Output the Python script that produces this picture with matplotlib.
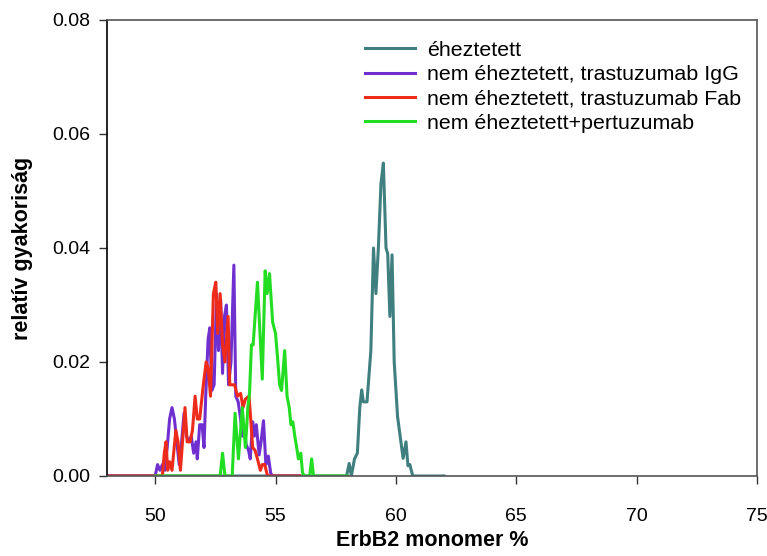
import numpy as np
import matplotlib
matplotlib.use('Agg')
import matplotlib.pyplot as plt

plt.rcParams['font.family'] = ['Liberation Sans', 'DejaVu Sans']

# éheztetett
x_eh = [48, 57.95, 58.06, 58.15, 58.28, 58.4, 58.5, 58.58, 58.65, 58.8, 58.96, 59.07, 59.17,
        59.27, 59.38, 59.48, 59.59, 59.66, 59.75, 59.84, 59.93, 60.07, 60.18, 60.3, 60.42,
        60.5, 60.58, 60.7, 62]
y_eh = [0, 0, 0.0022, 0.0, 0.003, 0.004, 0.012, 0.0151, 0.013, 0.013, 0.022, 0.040, 0.032,
        0.0398, 0.0513, 0.0549, 0.040, 0.039, 0.028, 0.0388, 0.020, 0.0104, 0.0069, 0.0031, 0.006,
        0.0018, 0.002, 0, 0]

# nem éheztetett, trastuzumab IgG
x_igg = [48, 50.0, 50.1, 50.2, 50.3, 50.4, 50.5, 50.6, 50.7, 50.8, 50.9, 51.0, 51.1, 51.2,
         51.3, 51.4, 51.5, 51.6, 51.7, 51.75, 51.85, 51.95, 52.03, 52.1, 52.2, 52.27, 52.35,
         52.45, 52.55, 52.63, 52.72, 52.8, 52.88, 52.96, 53.05, 53.15, 53.27, 53.35, 53.45,
         53.55, 53.62, 53.7, 53.78, 53.88, 53.95, 54.05, 54.12, 54.2, 54.32, 54.4, 54.5, 54.6,
         54.7, 54.8, 54.87, 56]
y_igg = [0, 0, 0.002, 0.001, 0.002, 0.001, 0.005, 0.010, 0.012, 0.010, 0.006, 0.002, 0.006, 0.011,
         0.007, 0.006, 0.007, 0.004, 0.006, 0.003, 0.009, 0.009, 0.005, 0.014, 0.024, 0.026, 0.015,
         0.016, 0.032, 0.022, 0.031, 0.018, 0.028, 0.030, 0.016, 0.020, 0.037, 0.014, 0.013,
         0.010, 0.007, 0.008, 0.0055, 0.0045, 0.003, 0.0095, 0.007, 0.009, 0.0037, 0.006, 0.0097, 0.002,
         0.0035, 0.0005, 0, 0]

# nem éheztetett, trastuzumab Fab
x_fab = [48, 50.3, 50.38, 50.45, 50.52, 50.6, 50.7, 50.86, 50.95, 51.05, 51.24, 51.33, 51.45,
         51.55, 51.66, 51.75, 51.85, 51.95, 52.03, 52.12, 52.2, 52.3, 52.42, 52.52, 52.6, 52.7,
         52.8, 52.9, 53.03, 53.1, 53.3, 53.42, 53.55, 53.65, 53.75, 53.9, 53.97, 54.05, 54.15,
         54.25, 54.37, 54.45, 54.55, 54.67, 56]
y_fab = [0, 0, 0.004, 0.006, 0.001, 0.0025, 0.001, 0.008, 0.006, 0.001, 0.012, 0.006, 0.006,
         0.008, 0.014, 0.010, 0.010, 0.014, 0.017, 0.020, 0.019, 0.014, 0.032, 0.034, 0.025, 0.032,
         0.023, 0.020, 0.028, 0.016, 0.016, 0.014, 0.0145, 0.012, 0.0135, 0.014, 0.010, 0.005, 0.0045,
         0.003, 0.001, 0.002, 0.002, 0, 0]

# nem éheztetett+pertuzumab
x_per = [50, 52.7, 52.8, 52.9, 53.2, 53.32, 53.46, 53.62, 53.75, 53.85, 53.92, 54.0, 54.07,
         54.25, 54.45, 54.57, 54.65, 54.75, 54.88, 55.0, 55.08, 55.17, 55.25, 55.38, 55.48,
         55.57, 55.64, 55.72, 55.8, 55.88, 55.95, 56.05, 56.12, 56.2, 56.42, 56.5, 56.58, 58]
y_per = [0, 0, 0.004, 0.0, 0, 0.011, 0.003, 0.012, 0.005, 0.012, 0.0145, 0.023, 0.023,
         0.034, 0.017, 0.036, 0.032, 0.0355, 0.027, 0.025, 0.021, 0.016, 0.015, 0.022, 0.014,
         0.012, 0.009, 0.0095, 0.007, 0.005, 0.003, 0.004, 0.0006, 0, 0, 0.003, 0.0, 0]

labels = ['éheztetett', 'nem éheztetett, trastuzumab IgG',
          'nem éheztetett, trastuzumab Fab', 'nem éheztetett+pertuzumab']
colors = ['#3f7f7f', '#7030d0', '#ee2a1b', '#22dd22']

fig = plt.figure(figsize=(7.67, 5.56), dpi=100)
ax = fig.add_axes([107 / 767, 1 - 476 / 556, 650 / 767, 456 / 556])

ax.plot(x_eh, y_eh, color=colors[0], lw=2.2, label=labels[0])
ax.plot(x_igg, y_igg, color=colors[1], lw=2.2, label=labels[1])
ax.plot(x_fab, y_fab, color=colors[2], lw=2.2, label=labels[2])
ax.plot(x_per, y_per, color=colors[3], lw=2.2, label=labels[3])

ax.set_xlim(48, 75)
ax.set_ylim(0, 0.08)
ax.set_xticks([50, 55, 60, 65, 70, 75])
ax.set_yticks([0, 0.02, 0.04, 0.06, 0.08])
ax.set_yticklabels(['0.00', '0.02', '0.04', '0.06', '0.08'])
ax.tick_params(labelsize=14, direction='out', length=6, width=1, labelcolor='black', color='#333333')
ax.tick_params(axis='x', pad=17)
ax.tick_params(axis='y', pad=6)
for s in ['top', 'bottom', 'right']:
    ax.spines[s].set_color('#555555')
ax.spines['left'].set_color('black')
for s in ax.spines.values():
    s.set_linewidth(1.2)

ax.set_xlabel('ErbB2 monomer %', fontsize=15.5, fontweight='bold', labelpad=4)
ax.set_ylabel('relatív gyakoriság', fontsize=15.5, fontweight='bold', labelpad=14)

leg = ax.legend(loc='upper left', bbox_to_anchor=(354 / 767, 1 - 30 / 556),
                bbox_transform=fig.transFigure, frameon=False, fontsize=15.4,
                handlelength=2.35, handletextpad=0.55, labelspacing=0.25, borderpad=0)

fig.savefig('out.png', dpi=100)
